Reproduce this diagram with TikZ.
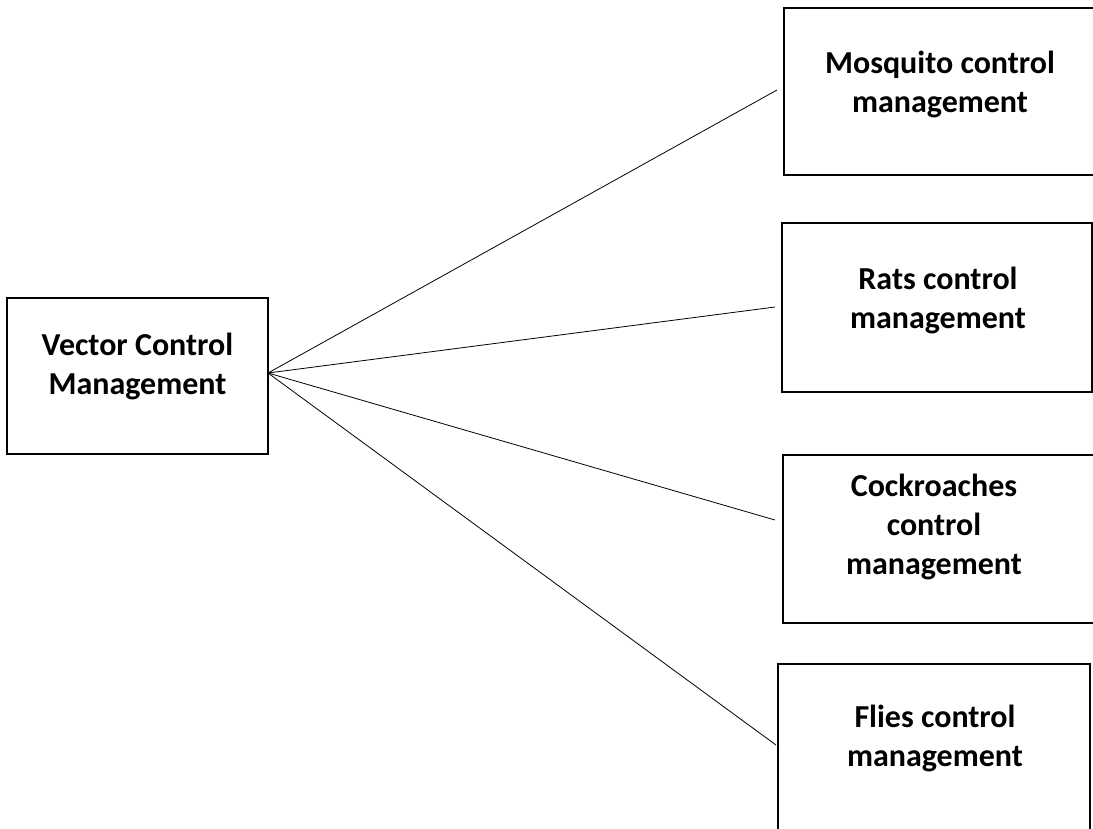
\documentclass[tikz,border=0pt]{standalone}
\usepackage{fontspec}
\setmainfont{Carlito}
\begin{document}
\begin{tikzpicture}[x=1pt,y=-1pt,
  box/.style={draw=black, line width=2pt, rectangle, inner sep=0pt},
  lbl/.style={font=\bfseries\fontsize{32}{39}\selectfont, align=center, inner sep=0pt},
  conn/.style={draw=black, line width=0.8pt}]
\useasboundingbox (0,0) rectangle (1093,828);
% boxes
\node[box, minimum width=261pt, minimum height=156pt] (vec) at (137.5,376) {};
\node[box, minimum width=310pt, minimum height=167.5pt] (mos) at (939,91.25) {};
\node[box, minimum width=310pt, minimum height=169pt] (rat) at (937,307.5) {};
\node[box, minimum width=311pt, minimum height=168pt] (cock) at (938.5,539) {};
\node[box, minimum width=312pt, minimum height=170pt] (fly) at (934,749) {};
% labels
\node[lbl] (vect) at (137.5,366) {Vector Control\\Management};
\node[lbl] (most) at (940,84) {Mosquito control\\management};
\node[lbl] (ratt) at (938,300) {Rats control\\management};
\node[lbl] (cockt) at (934,527) {Cockroaches\\control\\management};
\node[lbl] (flyt) at (935,738) {Flies control\\management};
% connector ends
\coordinate (src) at (268,373);
\coordinate (emos) at (777,90);
\coordinate (erat) at (775,307);
\coordinate (ecock) at (775,520);
\coordinate (efly) at (776,745);
\draw[conn] (src) -- (emos);
\draw[conn] (src) -- (erat);
\draw[conn] (src) -- (ecock);
\draw[conn] (src) -- (efly);
\end{tikzpicture}
\end{document}
